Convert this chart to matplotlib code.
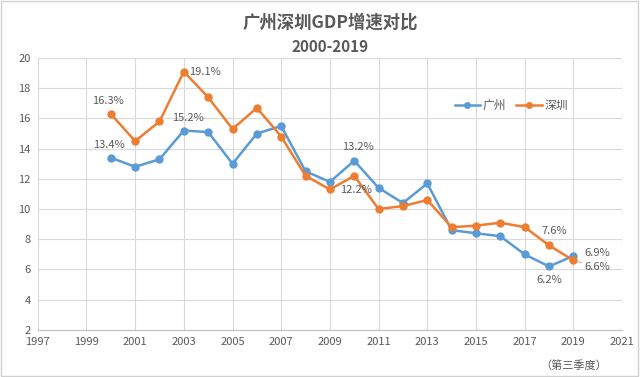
import matplotlib
matplotlib.use("Agg")
import matplotlib.pyplot as plt
from matplotlib.patches import Rectangle

plt.rcParams['font.family'] = ['Noto Sans CJK SC', 'DejaVu Sans']

years = [2000, 2001, 2002, 2003, 2004, 2005, 2006, 2007, 2008, 2009,
         2010, 2011, 2012, 2013, 2014, 2015, 2016, 2017, 2018, 2019]
guangzhou = [13.4, 12.8, 13.3, 15.2, 15.1, 13.0, 15.0, 15.5, 12.5, 11.8,
             13.2, 11.4, 10.4, 11.7, 8.6, 8.4, 8.2, 7.0, 6.2, 6.9]
shenzhen = [16.3, 14.5, 15.8, 19.1, 17.4, 15.3, 16.7, 14.8, 12.2, 11.3,
            12.2, 10.0, 10.2, 10.6, 8.8, 8.9, 9.1, 8.8, 7.6, 6.6]
xticks = list(range(1997, 2022, 2))
yticks = list(range(2, 21, 2))

blue = '#5B9BD5'
orange = '#ED7D31'
gray = '#595959'

fig = plt.figure(figsize=(6.4, 3.77), dpi=100)
fig.patches.append(Rectangle((0.002, 0.003), 0.995, 0.994, transform=fig.transFigure,
                             fill=False, edgecolor='#D0D0D0', linewidth=1))
ax = fig.add_axes([0.059, 0.125, 0.913, 0.721])

ax.plot(years, guangzhou, color=blue, marker='o', markersize=5, linewidth=1.8, label='广州', zorder=3)
ax.plot(years, shenzhen, color=orange, marker='o', markersize=5, linewidth=1.8, label='深圳', zorder=3)

ax.set_xlim(1997, 2021)
ax.set_ylim(2, 20)
ax.set_xticks(xticks)
ax.set_yticks(yticks)
ax.grid(True, color='#D9D9D9', linewidth=0.8)
ax.set_axisbelow(True)
for s in ['top', 'right', 'left']:
    ax.spines[s].set_visible(False)
ax.spines['bottom'].set_color('#BFBFBF')
ax.tick_params(axis='both', length=0, labelsize=8, labelcolor=gray, pad=5)

ax.annotate('（第三季度）', (2019, 2), xytext=(0, -26), textcoords='offset points',
            ha='center', va='center', fontsize=8, color=gray, annotation_clip=False)

def lab(x, y, s, dx, dy, ha='center', leader=False):
    kw = {}
    if leader:
        kw['arrowprops'] = dict(arrowstyle='-', color='#A6A6A6', linewidth=0.6,
                                shrinkA=0, shrinkB=3)
    ax.annotate(s, (x, y), xytext=(dx, dy), textcoords='offset points', ha=ha, va='center',
                fontsize=8, color=gray, **kw)

gz = dict(zip(years, guangzhou))
sz = dict(zip(years, shenzhen))
lab(2000, sz[2000], f'{sz[2000]}%', -2, 9)
lab(2000, gz[2000], f'{gz[2000]}%', -1, 9)
lab(2003, sz[2003], f'{sz[2003]}%', 4, 0, ha='left')
lab(2003, gz[2003], f'{gz[2003]}%', 3, 9)
lab(2010, gz[2010], f'{gz[2010]}%', 3, 10)
lab(2010, sz[2010], f'{sz[2010]}%', 1, -10)
lab(2018, sz[2018], f'{sz[2018]}%', 4, 10)
lab(2018, gz[2018], f'{gz[2018]}%', 0, -10)
lab(2019, gz[2019], f'{gz[2019]}%', 8, 2, ha='left')
lab(2019, sz[2019], f'{sz[2019]}%', 8, -5, ha='left', leader=True)

ax.legend(loc='center', bbox_to_anchor=(0.81, 0.825), ncol=2, frameon=False,
          fontsize=8.5, labelcolor=gray, handlelength=2.2, columnspacing=0.8,
          handletextpad=0.2, markerscale=0.8)

fig.text(0.516, 0.94, '广州深圳GDP增速对比', ha='center', va='center', fontsize=12.5,
         fontweight='bold', color=gray)
fig.text(0.516, 0.875, '2000-2019', ha='center', va='center', fontsize=11,
         fontweight='bold', color=gray)

fig.savefig('out.png', dpi=100)
